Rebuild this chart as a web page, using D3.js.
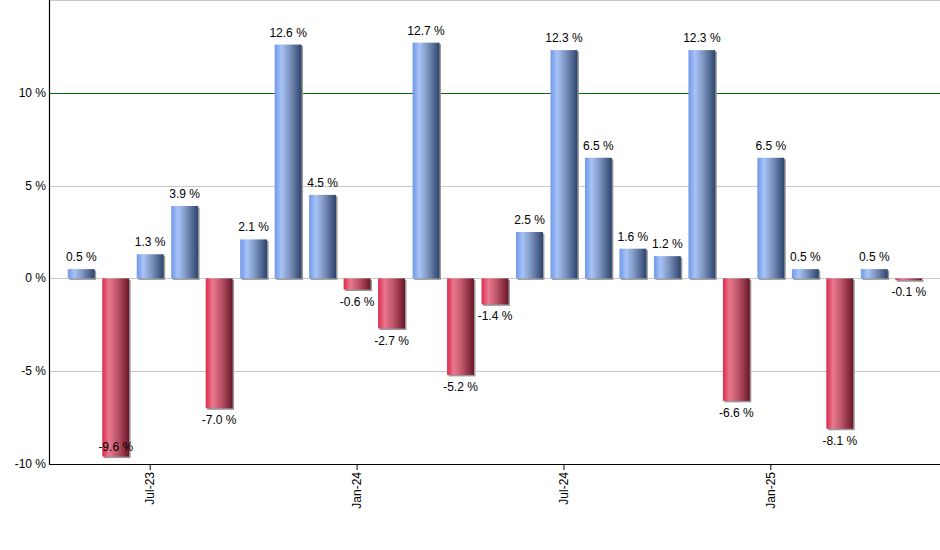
<!DOCTYPE html>
<html>
<head>
    <meta charset="utf-8">
    <title>Monthly returns</title>
    <script src="https://cdn.jsdelivr.net/npm/d3@7"></script>
    <style>
        body { margin: 0; background: #fff; }
        text { font-family: "Liberation Sans", Arial, sans-serif; font-size: 12px; fill: #000; }
    </style>
</head>
<body>
<div id="chart"></div>
<script>
    // data
    var months = ["May-23","Jun-23","Jul-23","Aug-23","Sep-23","Oct-23","Nov-23","Dec-23",
                  "Jan-24","Feb-24","Mar-24","Apr-24","May-24","Jun-24","Jul-24","Aug-24",
                  "Sep-24","Oct-24","Nov-24","Dec-24","Jan-25","Feb-25","Mar-25","Apr-25","May-25"];
    var values = [0.5,-9.6,1.3,3.9,-7.0,2.1,12.6,4.5,-0.6,-2.7,12.7,-5.2,-1.4,2.5,12.3,6.5,
                  1.6,1.2,12.3,-6.6,6.5,0.5,-8.1,0.5,-0.1];
    var xTickLabels = ["Jul-23","Jan-24","Jul-24","Jan-25"];
    var yTicks = [-10,-5,0,5,10];

    var width = 940,
        height = 550;
    var plotLeft = 49, plotRight = 940, plotTop = 0, plotBottom = 464;

    var svg = d3.select("#chart").append("svg")
        .attr("width", width)
        .attr("height", height);

    var defs = svg.append("defs");
    function grad(id, stops){
        var g = defs.append("linearGradient").attr("id", id)
            .attr("x1","0%").attr("x2","100%").attr("y1","0%").attr("y2","0%");
        stops.forEach(function(s){
            g.append("stop").attr("offset", s[0]).attr("stop-color", s[1]);
        });
    }
    grad("gBlue", [["0%","#7097e8"],["25%","#a7c3f7"],["55%","#7d95c0"],["100%","#2c446c"]]);
    grad("gRed", [["0%","#dc2a4c"],["25%","#e8798f"],["55%","#c0566b"],["100%","#6a1628"]]);

    var x = d3.scaleBand()
        .domain(months)
        .range([64, 926])
        .paddingInner(0.22)
        .paddingOuter(0.11);

    var y = d3.scaleLinear()
        .domain([-10, 15])
        .range([plotBottom, plotTop]);

    // top border
    svg.append("line")
        .attr("x1", plotLeft).attr("x2", plotRight).attr("y1", 0.5).attr("y2", 0.5)
        .attr("stroke", "#c8c8c8");

    // grid lines
    svg.selectAll(".grid").data(yTicks.filter(function(d){ return d > -10; }))
        .enter().append("line")
        .attr("class", "grid")
        .attr("x1", plotLeft).attr("x2", plotRight)
        .attr("y1", function(d){ return Math.round(y(d)) + 0.5; })
        .attr("y2", function(d){ return Math.round(y(d)) + 0.5; })
        .attr("stroke", function(d){ return d === 10 ? "#0a6a0a" : "#c8c8c8"; })
        .attr("stroke-width", function(d){ return d === 10 ? 1.2 : 1; });

    // bars
    var bars = svg.append("g").selectAll("g").data(values).enter().append("g");

    bars.append("rect")
        .attr("x", function(d,i){ return x(months[i]) + 1.5; })
        .attr("y", function(d){ return Math.min(y(d), y(0)) + 1.5; })
        .attr("width", x.bandwidth())
        .attr("height", function(d){ return Math.abs(y(d) - y(0)); })
        .attr("fill", "#9a9a9a");

    bars.append("rect")
        .attr("x", function(d,i){ return x(months[i]); })
        .attr("y", function(d){ return Math.min(y(d), y(0)); })
        .attr("width", x.bandwidth())
        .attr("height", function(d){ return Math.abs(y(d) - y(0)); })
        .attr("fill", function(d){ return d >= 0 ? "url(#gBlue)" : "url(#gRed)"; });

    // value labels
    bars.append("text")
        .attr("x", function(d,i){ return x(months[i]) + x.bandwidth()/2; })
        .attr("y", function(d){
            if (d >= 0) return y(d) - 8;
            return Math.min(y(d) + 16, plotBottom - 13);
        })
        .attr("text-anchor", "middle")
        .text(function(d){ return d.toFixed(1) + " %"; });

    // axes
    svg.append("line")
        .attr("x1", plotLeft + 0.5).attr("x2", plotLeft + 0.5).attr("y1", 0).attr("y2", plotBottom + 1)
        .attr("stroke", "#000").attr("stroke-width", 1.2);
    svg.append("line")
        .attr("x1", plotLeft).attr("x2", plotRight).attr("y1", plotBottom + 0.5).attr("y2", plotBottom + 0.5)
        .attr("stroke", "#000").attr("stroke-width", 1.2);

    svg.selectAll(".ylab").data(yTicks).enter().append("text")
        .attr("class", "ylab")
        .attr("x", plotLeft - 3)
        .attr("y", function(d){ return y(d) + 4; })
        .attr("text-anchor", "end")
        .text(function(d){ return d + " %"; });

    var xt = svg.selectAll(".xt").data(xTickLabels).enter().append("g")
        .attr("class", "xt")
        .attr("transform", function(d){ return "translate(" + (x(d) + x.bandwidth()/2) + "," + plotBottom + ")"; });
    xt.append("line").attr("y1", 0).attr("y2", 6).attr("stroke", "#000");
    xt.append("text")
        .attr("transform", "rotate(-90)")
        .attr("x", -8)
        .attr("y", 4)
        .attr("text-anchor", "end")
        .text(function(d){ return d; });
</script>
</body>
</html>
